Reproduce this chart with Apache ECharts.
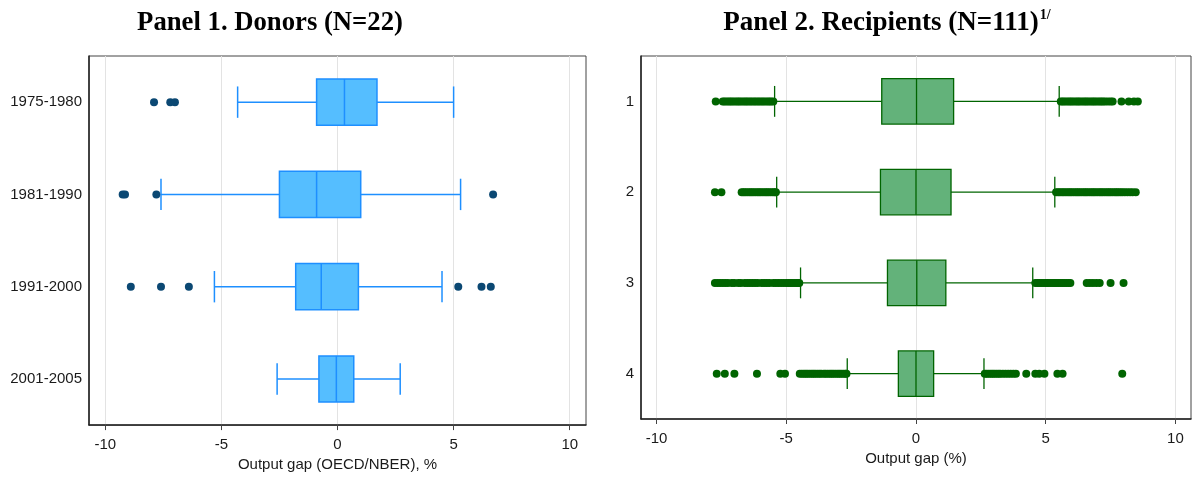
<!DOCTYPE html>
<html><head><meta charset="utf-8">
<script src="https://cdn.jsdelivr.net/npm/echarts@6/dist/echarts.min.js"></script>
<style>html,body{margin:0;padding:0;background:#fff}#c{width:1194px;height:477px}</style>
</head><body><div id="c"></div>
<script>
// ---------- data ----------
const donorCategories = ['1975-1980', '1981-1990', '1991-2000', '2001-2005'];
const recipientCategories = ['1', '2', '3', '4'];
const xTicks = [-10, -5, 0, 5, 10];

// [lower whisker, Q1, median, Q3, upper whisker]
const donorBoxes = [
  [-4.3, -0.9, 0.3, 1.7, 5.0],
  [-7.6, -2.5, -0.9, 1.0, 5.3],
  [-5.3, -1.8, -0.7, 0.9, 4.5],
  [-2.6, -0.8, -0.05, 0.7, 2.7]
];
const donorOutliers1 = [-7.9, -7.2, -7.0];
const donorOutliers2 = [-9.25, -9.15, -7.8, 6.7];
const donorOutliers3 = [-8.9, -7.6, -6.4, 5.2, 6.2, 6.6];
const donorOutliers4 = [];

const recipientBoxes = [
  [-5.45, -1.32, 0.02, 1.45, 5.52],
  [-5.37, -1.37, 0.0, 1.35, 5.35],
  [-4.45, -1.1, 0.03, 1.15, 4.5],
  [-2.65, -0.68, 0.0, 0.68, 2.62]
];
const recipientOutliers1 = [-7.72, -7.45, -7.38, -7.3, -7.22, -7.15, -7.08, -7.0, -6.92, -6.85, -6.78, -6.7, -6.62, -6.55, -6.48, -6.4, -6.33, -6.25, -6.18, -6.1, -6.03, -5.95, -5.88, -5.8, -5.72, -5.65, -5.58, -5.5,
  5.58, 5.65, 5.72, 5.8, 5.88, 5.95, 6.02, 6.1, 6.18, 6.25, 6.32, 6.4, 6.48, 6.55, 6.62, 6.7, 6.78, 6.85, 6.92, 7.0, 7.08, 7.15, 7.22, 7.3, 7.4, 7.5, 7.58, 7.92, 8.2, 8.4, 8.55];
const recipientOutliers2 = [-7.75, -7.5, -6.72, -6.65, -6.58, -6.5, -6.42, -6.35, -6.28, -6.2, -6.12, -6.05, -5.98, -5.9, -5.82, -5.75, -5.68, -5.6, -5.52, -5.45, -5.4,
  5.4, 5.48, 5.55, 5.63, 5.7, 5.78, 5.86, 5.93, 6.0, 6.08, 6.16, 6.23, 6.3, 6.38, 6.46, 6.53, 6.6, 6.68, 6.76, 6.83, 6.9, 6.98, 7.06, 7.13, 7.2, 7.28, 7.36, 7.43, 7.5, 7.58, 7.66, 7.73, 7.8, 7.88, 7.96, 8.05, 8.15, 8.25, 8.35, 8.47];
const recipientOutliers3 = [-7.75, -7.65, -7.55, -7.45, -7.35, -7.25, -7.1, -7.0, -6.85, -6.75, -6.6, -6.5, -6.4, -6.3, -6.2, -6.1, -5.95, -5.85, -5.75, -5.65, -5.5, -5.4, -5.3, -5.2, -5.1, -5.0, -4.92, -4.85, -4.78, -4.7, -4.62, -4.55, -4.5,
  4.6, 4.68, 4.75, 4.82, 4.9, 4.98, 5.05, 5.12, 5.2, 5.28, 5.35, 5.42, 5.5, 5.58, 5.65, 5.72, 5.8, 5.88, 5.95, 6.58, 6.7, 6.82, 6.95, 7.08, 7.5, 8.0];
const recipientOutliers4 = [-7.68, -7.37, -7.0, -6.13, -5.23, -5.05, -4.48, -4.4, -4.32, -4.25, -4.18, -4.1, -4.02, -3.95, -3.88, -3.8, -3.72, -3.65, -3.55, -3.48, -3.4, -3.32, -3.25, -3.18, -3.1, -3.02, -2.95, -2.88, -2.8, -2.72, -2.68,
  2.65, 2.72, 2.8, 2.88, 2.95, 3.02, 3.1, 3.18, 3.25, 3.35, 3.45, 3.55, 3.65, 3.75, 3.85, 4.25, 4.6, 4.75, 4.95, 5.45, 5.65, 7.95];

// ---------- build ----------
const donorOutliers = [donorOutliers1, donorOutliers2, donorOutliers3, donorOutliers4];
const recipientOutliers = [recipientOutliers1, recipientOutliers2, recipientOutliers3, recipientOutliers4];

function toPoints(groups) {
  const pts = [];
  groups.forEach((g, i) => g.forEach(v => pts.push([v, i])));
  return pts;
}

function boxRenderer(fill, stroke, lw) {
  return function (params, api) {
    const cat = api.value(0);
    const band = api.size([0, 1])[1];
    const hb = band * 0.25, hc = band * 0.17;
    const pLow = api.coord([api.value(1), cat]);
    const pQ1 = api.coord([api.value(2), cat]);
    const pMed = api.coord([api.value(3), cat]);
    const pQ3 = api.coord([api.value(4), cat]);
    const pHigh = api.coord([api.value(5), cat]);
    const y = pMed[1];
    const ls = { stroke: stroke, lineWidth: lw };
    return {
      type: 'group',
      children: [
        { type: 'line', shape: { x1: pLow[0], y1: y, x2: pQ1[0], y2: y }, style: ls },
        { type: 'line', shape: { x1: pQ3[0], y1: y, x2: pHigh[0], y2: y }, style: ls },
        { type: 'line', shape: { x1: pLow[0], y1: y - hc, x2: pLow[0], y2: y + hc }, style: ls },
        { type: 'line', shape: { x1: pHigh[0], y1: y - hc, x2: pHigh[0], y2: y + hc }, style: ls },
        { type: 'rect', shape: { x: pQ1[0], y: y - hb, width: pQ3[0] - pQ1[0], height: 2 * hb }, style: { fill: fill, stroke: stroke, lineWidth: lw } },
        { type: 'line', shape: { x1: pMed[0], y1: y - hb, x2: pMed[0], y2: y + hb }, style: ls }
      ]
    };
  };
}

const labelFont = { fontFamily: 'Liberation Sans', fontSize: 15, color: '#1a1a1a' };

function xAxis(gridIndex, ext, name) {
  return {
    type: 'value', gridIndex: gridIndex, min: -ext, max: ext,
    name: name, nameLocation: 'middle', nameGap: 28,
    nameTextStyle: Object.assign({}, labelFont),
    axisLine: { show: true, onZero: false, lineStyle: { color: '#222', width: 1.5 } },
    axisTick: { show: true, length: 5, customValues: xTicks, lineStyle: { color: '#444' } },
    axisLabel: Object.assign({ margin: 12, customValues: xTicks, formatter: v => String(v) }, labelFont),
    splitLine: { show: true, lineStyle: { color: '#e3e3e3', width: 1 } }
  };
}
function yAxis(gridIndex, cats) {
  return {
    type: 'category', gridIndex: gridIndex, data: cats, inverse: true, boundaryGap: true,
    axisLine: { show: true, onZero: false, lineStyle: { color: '#222', width: 1.5 } },
    axisTick: { show: false },
    axisLabel: Object.assign({ margin: 7 }, labelFont),
    splitLine: { show: false }
  };
}

const option = {
  animation: false,
  backgroundColor: '#fff',
  grid: [
    { left: 89, top: 56, width: 497, height: 374, show: true, borderColor: '#444', borderWidth: 1, backgroundColor: '#fff' },
    { left: 641, top: 56, width: 550, height: 363, show: true, borderColor: '#444', borderWidth: 1, backgroundColor: '#fff' }
  ],
  xAxis: [xAxis(0, 10.7, 'Output gap (OECD/NBER), %'), xAxis(1, 10.6, 'Output gap (%)')],
  yAxis: [yAxis(0, donorCategories), yAxis(1, recipientCategories)],
  graphic: [
    { type: 'text', x: 270, y: 23, style: { text: 'Panel 1. Donors (N=22)', font: 'bold 26.7px "Liberation Serif"', fill: '#000', align: 'center', verticalAlign: 'middle' } },
    { type: 'text', x: 887, y: 23, style: { text: '{m|Panel 2. Recipients (N=111)}{s|1/}', fill: '#000', align: 'center', verticalAlign: 'middle',
      rich: { m: { fontFamily: 'Liberation Serif', fontWeight: 'bold', fontSize: 27, fill: '#000' },
              s: { fontFamily: 'Liberation Serif', fontWeight: 'bold', fontSize: 14, fill: '#000', padding: [0, 0, 15, 1] } } } }
  ],
  series: [
    { type: 'custom', xAxisIndex: 0, yAxisIndex: 0, renderItem: boxRenderer('#55beff', '#1e8fff', 1.5),
      encode: { x: [1, 2, 3, 4, 5], y: 0 }, data: donorBoxes.map((b, i) => [i].concat(b)) },
    { type: 'scatter', xAxisIndex: 0, yAxisIndex: 0, symbolSize: 8, itemStyle: { color: '#0b4873', opacity: 1 },
      data: toPoints(donorOutliers) },
    { type: 'custom', xAxisIndex: 1, yAxisIndex: 1, renderItem: boxRenderer('#63b27a', '#006400', 1.3),
      encode: { x: [1, 2, 3, 4, 5], y: 0 }, data: recipientBoxes.map((b, i) => [i].concat(b)) },
    { type: 'scatter', xAxisIndex: 1, yAxisIndex: 1, symbolSize: 8, itemStyle: { color: '#006400', opacity: 1 },
      data: toPoints(recipientOutliers) }
  ]
};
const chart = echarts.init(document.getElementById('c'), null, { renderer: 'canvas' });
chart.setOption(option);
</script>
</body></html>
